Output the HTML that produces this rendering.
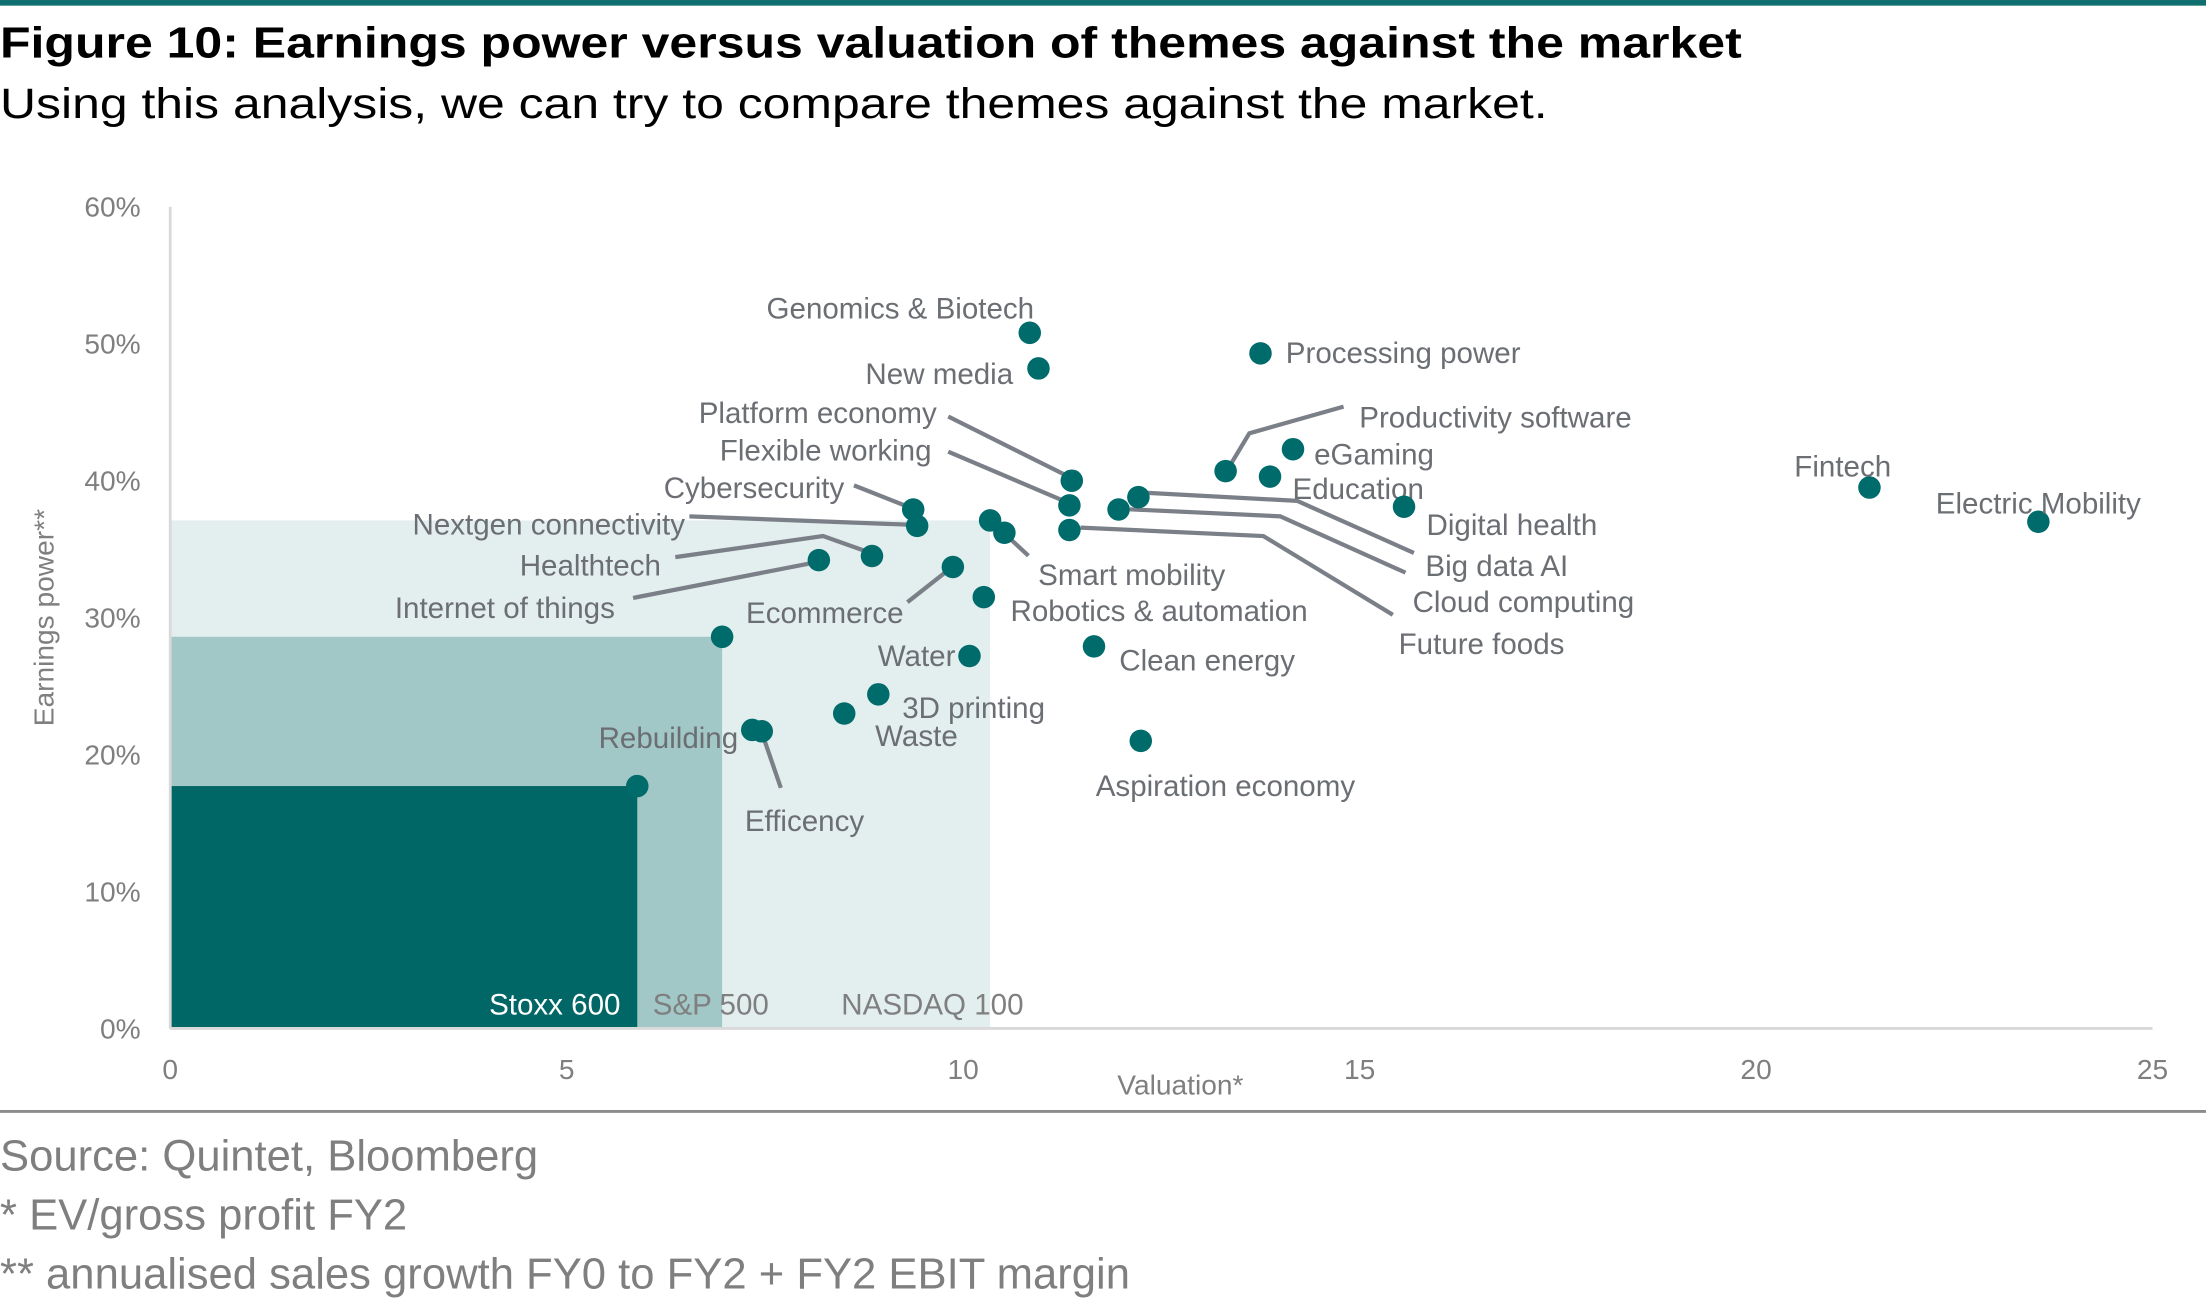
<!DOCTYPE html>
<html><head><meta charset="utf-8"><style>
html,body{margin:0;padding:0;background:#fff;}
svg{display:block;font-family:"Liberation Sans",Arial,sans-serif;}
</style></head><body>
<svg id="chart" width="2206" height="1300" viewBox="0 0 1568 924" xmlns="http://www.w3.org/2000/svg">
<rect x="0" y="0" width="1568" height="4" fill="#0f6e6e"/>
<text x="0" y="41" font-size="31" font-weight="bold" fill="#000" textLength="1238" lengthAdjust="spacingAndGlyphs">Figure 10: Earnings power versus valuation of themes against the market</text>
<text x="0" y="84" font-size="30" fill="#000" textLength="1100" lengthAdjust="spacingAndGlyphs">Using this analysis, we can try to compare themes against the market.</text>
<g id="boxes"></g>
<g id="axes"></g>
<g id="leaders"></g>
<g id="points"></g>
<line x1="0" y1="790" x2="1568" y2="790" stroke="#8c8c8c" stroke-width="2"/>
<text x="0" y="832" font-size="31" fill="#7f7f7f">Source: Quintet, Bloomberg</text>
<text x="0" y="874" font-size="31" fill="#7f7f7f">* EV/gross profit FY2</text>
<text x="0" y="916" font-size="31" fill="#7f7f7f">** annualised sales growth FY0 to FY2 + FY2 EBIT margin</text>
</svg>
<script>
const themeNames=["Genomics & Biotech","New media","Processing power","Productivity software","eGaming","Education","Digital health","Fintech","Electric Mobility","Platform economy","Flexible working","Cybersecurity","Nextgen connectivity","Smart mobility","Big data AI","Cloud computing","Future foods","Healthtech","Internet of things","Ecommerce","Robotics & automation","Water","Clean energy","3D printing","Waste","Rebuilding","Efficency","Aspiration economy"];
const valuation=[10.84,10.95,13.75,13.31,14.16,13.87,15.56,21.43,23.56,11.37,11.34,9.37,9.42,10.52,12.21,11.96,11.34,8.85,8.18,9.87,10.26,10.08,11.65,8.93,8.5,7.34,7.46,12.24];
const earnings=[50.8,48.2,49.3,40.7,42.3,40.3,38.1,39.5,37.0,40.0,38.2,37.9,36.7,36.2,38.8,37.9,36.4,34.5,34.2,33.7,31.5,27.2,27.9,24.4,23.0,21.8,21.7,21.0];
const indexNames=["NASDAQ 100","S&P 500","Stoxx 600"];
const indexValuation=[10.34,6.96,5.89];
const indexEarnings=[37.1,28.6,17.7];
const xTicks=[0,5,10,15,20,25];
const yTicks=[0,10,20,30,40,50,60];

const X0=121,X1=1530,Y0=731,Y1=147;
const xs=v=>X0+(v/25)*(X1-X0);
const ys=v=>Y0-(v/60)*(Y0-Y1);
const NS="http://www.w3.org/2000/svg";
function mk(tag,attrs,parent){const e=document.createElementNS(NS,tag);for(const k in attrs)e.setAttribute(k,attrs[k]);parent.appendChild(e);return e;}

// label offsets (dx,dy in px relative to point, anchor)
const labelPos={
"Genomics & Biotech":[-92,-17,"middle"],"New media":[-18,4,"end"],"Processing power":[18,0,"start"],
"Productivity software":[95,-38,"start"],"eGaming":[15,4,"start"],"Education":[16,9,"start"],
"Digital health":[16,13,"start"],"Fintech":[-19,-15,"middle"],"Electric Mobility":[0,-13,"middle"],
"Platform economy":[-96,-48,"end"],"Flexible working":[-98,-39,"end"],"Cybersecurity":[-49,-15,"end"],
"Nextgen connectivity":[-165,-1,"end"],"Smart mobility":[24,30,"start"],"Big data AI":[204,49,"start"],
"Cloud computing":[209,66,"start"],"Future foods":[234,81,"start"],"Healthtech":[-150,7,"end"],
"Internet of things":[-145,34,"end"],"Ecommerce":[-35,33,"end"],"Robotics & automation":[19,10,"start"],
"Water":[-10,0,"end"],"Clean energy":[18,10,"start"],"3D printing":[17,10,"start"],
"Waste":[22,16,"start"],"Rebuilding":[-10,6,"end"],"Efficency":[-12,64,"start"],"Aspiration economy":[-32,32,"start"]};
const leaderPts={
"Productivity software":[[955,289],[888,308],[873,333]],
"Platform economy":[[674,296],[758,338]],
"Flexible working":[[674,321],[756,356]],
"Cybersecurity":[[607,345],[645,360]],
"Nextgen connectivity":[[490,367],[648,373]],
"Healthtech":[[480,396],[585,381],[616,392]],
"Internet of things":[[450,425],[578,400]],
"Ecommerce":[[645,428],[673,406]],
"Smart mobility":[[731,395],[717,382]],
"Big data AI":[[810,350],[922,356],[1005,393]],
"Cloud computing":[[803,362],[910,367],[999,407]],
"Future foods":[[768,375],[898,381],[990,437]],
"Efficency":[[555,560],[543,525]]};

const boxes=document.getElementById('boxes');
const boxFill=["#e3eeee","#a2c7c7","#006666"];
const boxLabelFill=["#7f7f7f","#7f7f7f","#ffffff"];
const boxLabelX=[598,464,441];
const boxAnchor=["start","start","end"];
indexNames.forEach((n,i)=>{
  const r=mk('rect',{x:X0,y:ys(indexEarnings[i]),width:xs(indexValuation[i])-X0,height:Y0-ys(indexEarnings[i]),fill:boxFill[i]},boxes);
  
  
});
indexNames.forEach((n,i)=>{
  const t=mk('text',{x:boxLabelX[i],y:721,'font-size':21,fill:boxLabelFill[i],'text-anchor':boxAnchor[i]},boxes);
  t.textContent=n;
  
  
});

const axes=document.getElementById('axes');
let l=mk('line',{x1:X0,y1:Y1,x2:X0,y2:Y0,stroke:'#d9d9d9','stroke-width':2},axes);


l=mk('line',{x1:X0,y1:Y0,x2:X1,y2:Y0,stroke:'#d9d9d9','stroke-width':2},axes);


yTicks.forEach(v=>{const t=mk('text',{x:100,y:ys(v)+7,'font-size':20,fill:'#7f7f7f','text-anchor':'end'},axes);t.textContent=v+'%';

});
xTicks.forEach(v=>{const t=mk('text',{x:xs(v),y:767,'font-size':20,fill:'#7f7f7f','text-anchor':'middle'},axes);t.textContent=v;

});
let t=mk('text',{x:839,y:778,'font-size':20,fill:'#7f7f7f','text-anchor':'middle'},axes);t.textContent='Valuation*';


t=mk('text',{x:0,y:0,'font-size':20,fill:'#7f7f7f','text-anchor':'middle',transform:'translate(38,439) rotate(-90)'},axes);t.textContent='Earnings power**';



const leaders=document.getElementById('leaders');
for(const k in leaderPts){const p=mk('polyline',{points:leaderPts[k].map(a=>a.join(',')).join(' '),fill:'none',stroke:'#7b7f87','stroke-width':3},leaders);

}

const pts=document.getElementById('points');
const dot=(x,y,name)=>{const c=mk('circle',{cx:x,cy:y,r:8,fill:'#006b6b'},pts);

};
indexNames.forEach((n,i)=>dot(xs(indexValuation[i]),ys(indexEarnings[i]),'index-point'));
themeNames.forEach((n,i)=>{
  const x=xs(valuation[i]),y=ys(earnings[i]);
  dot(x,y,'theme-point');
  const lp=labelPos[n]||[12,7,'start'];
  const tx=mk('text',{x:x+lp[0],y:y+lp[1]+7,'font-size':21,fill:'#6b6e73','text-anchor':lp[2]},pts);
  tx.textContent=n;
  
  
});
</script>
</body></html>
